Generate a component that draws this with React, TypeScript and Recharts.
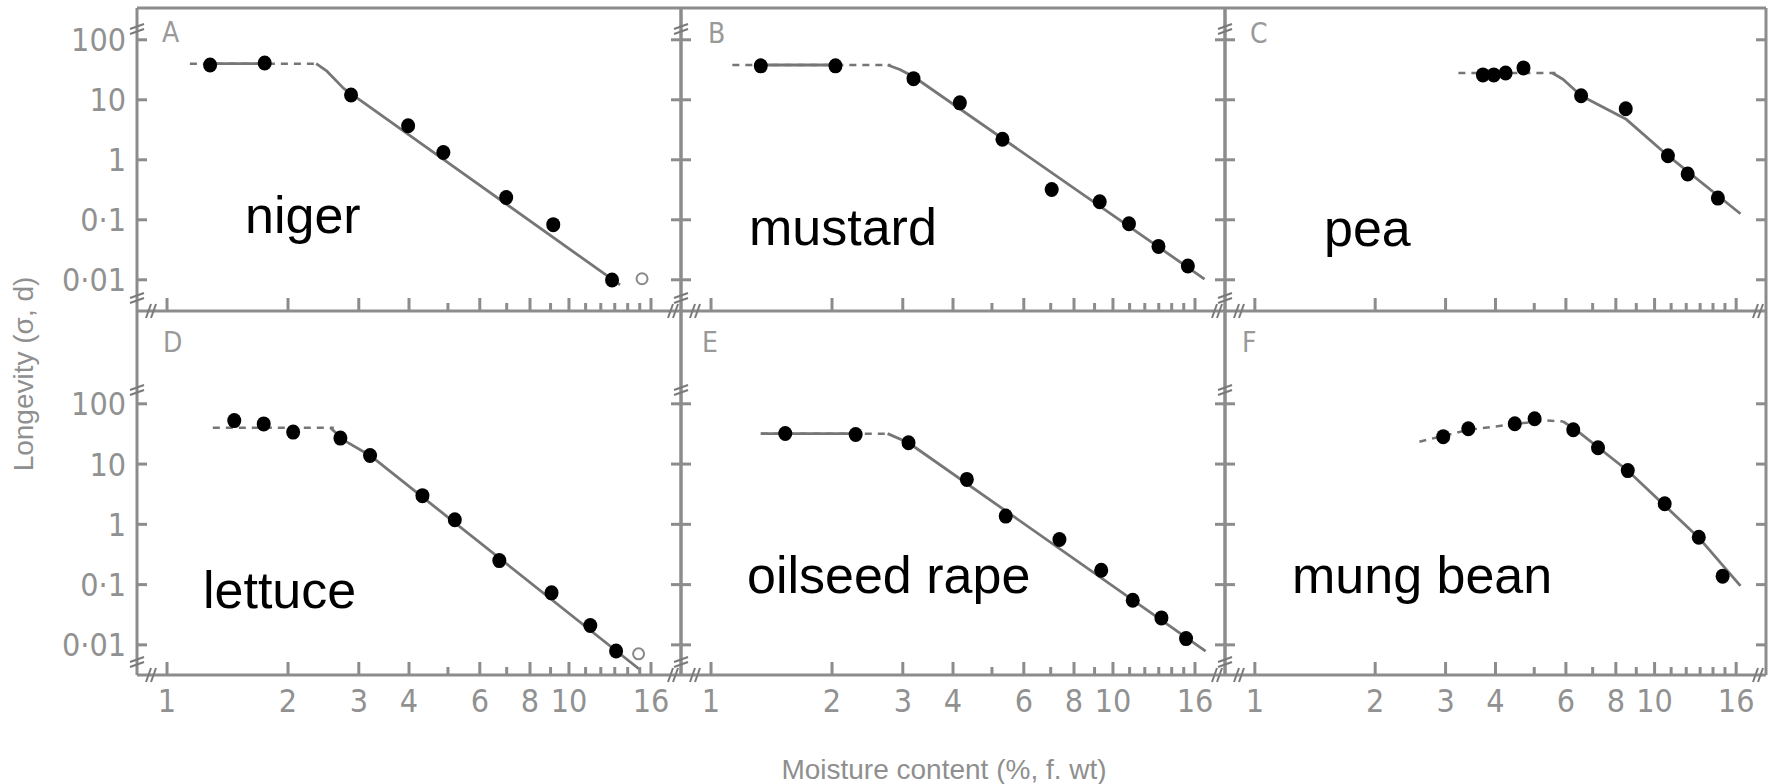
import React from "react";
import { ComposedChart, Line, Scatter, XAxis, YAxis } from "recharts";

// axes
const moistureTicks = [1, 2, 3, 4, 5, 6, 7, 8, 9, 10, 11, 12, 13, 14, 15, 16];
const moistureLabelTicks = [1, 2, 3, 4, 6, 8, 10, 16];
const longevityTicks = [0.01, 0.1, 1, 10, 100];
const longevityLabels = ["0·01", "0·1", "1", "10", "100"];

// A - niger
const nigerMoisture = [1.28, 1.75, 2.87, 3.98, 4.87, 6.98, 9.14, 12.8];
const nigerLongevity = [38, 41, 12, 3.7, 1.32, 0.235, 0.083, 0.0099];
const nigerDash = [[1.14, 40], [2.4, 40]];
const nigerSolid = [[1.28, 40], [1.75, 40]];
const nigerDecline = [[2.35, 40], [2.5, 30], [2.75, 15.5], [13.4, 0.0082]];
const nigerEmpty = [[15.2, 0.0104]];

// B - mustard
const mustardMoisture = [1.33, 2.04, 3.19, 4.16, 5.31, 7.04, 9.27, 10.96, 12.98, 15.36];
const mustardLongevity = [36.8, 36.8, 22.5, 8.9, 2.2, 0.32, 0.2, 0.086, 0.036, 0.017];
const mustardDash = [[1.13, 38], [2.8, 38]];
const mustardSolid = [[1.33, 38], [2.04, 38]];
const mustardDecline = [[2.75, 38], [2.95, 32], [3.2, 24], [16.9, 0.0103]];

// C - pea
const peaMoisture = [3.72, 3.96, 4.24, 4.7, 6.55, 8.47, 10.8, 12.1, 14.4];
const peaLongevity = [26, 26, 28, 34, 11.7, 7.1, 1.17, 0.58, 0.23];
const peaDash = [[3.23, 28], [5.65, 28]];
const peaDecline = [[5.55, 28], [5.9, 22], [6.55, 11.7], [8.47, 4.8], [10.8, 1.17], [16.4, 0.126]];

// D - lettuce
const lettuceMoisture = [1.47, 1.74, 2.06, 2.7, 3.2, 4.32, 5.2, 6.71, 9.05, 11.3, 13.1];
const lettuceLongevity = [52.6, 46.4, 33.9, 27, 13.9, 2.99, 1.19, 0.25, 0.073, 0.021, 0.0079];
const lettuceDash = [[1.3, 40], [2.6, 40]];
const lettuceDecline = [[2.55, 40], [2.75, 25], [3.2, 13.9], [15.0, 0.0039]];
const lettuceEmpty = [[14.9, 0.0071]];

// E - oilseed rape
const rapeMoisture = [1.53, 2.29, 3.1, 4.33, 5.41, 7.36, 9.35, 11.2, 13.2, 15.2];
const rapeLongevity = [32.2, 31, 22.6, 5.57, 1.37, 0.56, 0.173, 0.055, 0.028, 0.0127];
const rapeDash = [[1.33, 32], [2.8, 32]];
const rapeSolid = [[1.33, 32], [2.35, 32]];
const rapeDecline = [[2.75, 32], [3.1, 22.6], [17.0, 0.0079]];

// F - mung bean
const mungMoisture = [2.96, 3.42, 4.47, 5.01, 6.26, 7.22, 8.57, 10.6, 12.9, 14.8];
const mungLongevity = [28.5, 38.6, 46.7, 56.5, 37.2, 18.7, 7.8, 2.2, 0.61, 0.138];
const mungDash = [[2.58, 23.5], [3.42, 37], [4.47, 46], [5.3, 53], [5.9, 51]];
const mungDecline = [[5.9, 51], [6.5, 33], [8.6, 7.6], [12.9, 0.6], [16.4, 0.095]];

const GRAY = "#8c8c8c";
const LINE = "#767676";
const TICK_FONT = '"Liberation Sans Narrow", "DejaVu Sans Condensed", sans-serif';
const TEXT_FONT = '"Liberation Sans", Arial, sans-serif';

const xDomain = [0.842, 19];
const rowDomains = [
  [Math.pow(10, -2.52), Math.pow(10, 2.53)],
  [Math.pow(10, -2.5), Math.pow(10, 3.54)],
];
const colLefts = [137, 681, 1225];
const colWidths = [544, 544, 541];
const rowTops = [8, 311];
const rowHeights = [303, 364];

const zip = (xs: number[], ys: number[]) => xs.map((x, i) => ({ x, y: ys[i] }));
const pts = (p: number[][]) => p.map(([x, y]) => ({ x, y }));

type PanelDef = {
  row: number
  col: number
  letter: string
  name: string
  points: { x: number; y: number }[]
  dash: number[][]
  solid: number[][][]
  empty?: number[][]
  letterPos: [number, number]
  namePos: [number, number]
}

const panels: PanelDef[] = [
  { row: 0, col: 0, letter: "A", name: "niger", points: zip(nigerMoisture, nigerLongevity), dash: nigerDash, solid: [nigerSolid, nigerDecline], empty: nigerEmpty, letterPos: [162, 42], namePos: [245, 233] },
  { row: 0, col: 1, letter: "B", name: "mustard", points: zip(mustardMoisture, mustardLongevity), dash: mustardDash, solid: [mustardSolid, mustardDecline], letterPos: [708, 43], namePos: [749, 245] },
  { row: 0, col: 2, letter: "C", name: "pea", points: zip(peaMoisture, peaLongevity), dash: peaDash, solid: [peaDecline], letterPos: [1250, 43], namePos: [1324, 246] },
  { row: 1, col: 0, letter: "D", name: "lettuce", points: zip(lettuceMoisture, lettuceLongevity), dash: lettuceDash, solid: [lettuceDecline], empty: lettuceEmpty, letterPos: [163, 352], namePos: [203, 608] },
  { row: 1, col: 1, letter: "E", name: "oilseed rape", points: zip(rapeMoisture, rapeLongevity), dash: rapeDash, solid: [rapeSolid, rapeDecline], letterPos: [702, 352], namePos: [747, 593] },
  { row: 1, col: 2, letter: "F", name: "mung bean", points: zip(mungMoisture, mungLongevity), dash: mungDash, solid: [mungDecline], letterPos: [1242, 352], namePos: [1292, 593] },
];

const XTick = ({ x, y, payload, labels }: any) => {
  const v = payload.value;
  const major = moistureLabelTicks.includes(v);
  return (
    <g>
      <line x1={x} y1={y} x2={x} y2={y - (major ? 13 : 8)} stroke={GRAY} strokeWidth={3} />
      {labels && major && (
        <text x={x} y={y + 37} textAnchor="middle" fontFamily={TICK_FONT} fontSize={32} fill="#919191">
          {v}
        </text>
      )}
    </g>
  );
};

const YTick = ({ x, y, payload, side, labels }: any) => {
  const dir = side === "left" ? 1 : -1;
  const idx = longevityTicks.indexOf(payload.value);
  return (
    <g>
      <line x1={x} y1={y} x2={x + dir * 10} y2={y} stroke={GRAY} strokeWidth={3} />
      {labels && (
        <text x={x - 11} y={y} dy="0.36em" textAnchor="end" fontFamily={TICK_FONT} fontSize={32} fill="#919191">
          {longevityLabels[idx]}
        </text>
      )}
    </g>
  );
};

const Dot = (props: any) => <ellipse cx={props.cx} cy={props.cy} rx={7} ry={7.5} fill="#000" />;
const OpenDot = (props: any) => (
  <circle cx={props.cx} cy={props.cy} r={5.5} fill="none" stroke="#888" strokeWidth={2} />
);

// small "//" axis-break marks
const BreakMark = ({ x, y, vertical }: { x: number; y: number; vertical?: boolean }) =>
  vertical ? (
    <g stroke="#7a7a7a" strokeWidth={2}>
      <line x1={x - 7} y1={y + 1} x2={x + 7} y2={y - 4} />
      <line x1={x - 7} y1={y + 6} x2={x + 7} y2={y + 1} />
    </g>
  ) : (
    <g stroke="#7a7a7a" strokeWidth={2}>
      <line x1={x - 5} y1={y + 7} x2={x} y2={y - 7} />
      <line x1={x} y1={y + 7} x2={x + 5} y2={y - 7} />
    </g>
  );

const Panel = ({ def }: { def: PanelDef }) => {
  const left = colLefts[def.col];
  const w = colWidths[def.col];
  const top = rowTops[def.row];
  const h = rowHeights[def.row];
  const topAxis = def.row === 0;
  const axisLine = { stroke: GRAY, strokeWidth: 3 };
  return (
    <div style={{ position: "absolute", left: left - 130, top: top - 10 }}>
      <ComposedChart
        width={w + 140}
        height={h + 90}
        margin={{ top: topAxis ? 0 : 10, right: 0, bottom: 0, left: 0 }}
      >
        <XAxis
          dataKey="x"
          type="number"
          scale="log"
          domain={xDomain}
          allowDataOverflow
          ticks={moistureTicks}
          interval={0}
          height={80}
          tickLine={false}
          tickSize={0}
          tickMargin={0}
          axisLine={axisLine}
          tick={(p: any) => <XTick {...p} labels={def.row === 1} />}
        />
        {topAxis && (
          <XAxis
            xAxisId="top"
            orientation="top"
            type="number"
            scale="log"
            domain={xDomain}
            allowDataOverflow
            height={10}
            tick={false}
            tickLine={false}
            axisLine={axisLine}
          />
        )}
        <YAxis
          dataKey="y"
          type="number"
          scale="log"
          domain={rowDomains[def.row]}
          allowDataOverflow
          ticks={longevityTicks}
          interval={0}
          width={130}
          tickLine={false}
          tickSize={0}
          tickMargin={0}
          axisLine={axisLine}
          tick={(p: any) => <YTick {...p} side="left" labels={def.col === 0} />}
        />
        <YAxis
          yAxisId="right"
          orientation="right"
          type="number"
          scale="log"
          domain={rowDomains[def.row]}
          allowDataOverflow
          ticks={longevityTicks}
          interval={0}
          width={10}
          tickLine={false}
          tickSize={0}
          tickMargin={0}
          axisLine={axisLine}
          tick={(p: any) => <YTick {...p} side="right" labels={false} />}
        />
        <Line
          data={pts(def.dash)}
          dataKey="y"
          type="linear"
          stroke={LINE}
          strokeWidth={2.5}
          strokeDasharray="7 6"
          dot={false}
          activeDot={false}
          isAnimationActive={false}
        />
        {def.solid.map((seg, k) => (
          <Line
            key={k}
            data={pts(seg)}
            dataKey="y"
            type="linear"
            stroke={LINE}
            strokeWidth={2.8}
            strokeLinejoin="round"
            dot={false}
            activeDot={false}
            isAnimationActive={false}
          />
        ))}
        <Scatter data={def.points} shape={Dot} isAnimationActive={false} />
        {def.empty && <Scatter data={pts(def.empty)} shape={OpenDot} isAnimationActive={false} />}
      </ComposedChart>
    </div>
  );
};

export default function App() {
  return (
    <div style={{ position: "absolute", left: 0, top: 0, width: 1779, height: 784, background: "#fff", overflow: "hidden" }}>
      {panels.map((def) => (
        <Panel key={def.letter} def={def} />
      ))}
      <svg width={1779} height={784} style={{ position: "absolute", left: 0, top: 0, pointerEvents: "none" }}>
        {panels.map((def) => {
          const left = colLefts[def.col];
          const right = left + colWidths[def.col];
          const top = rowTops[def.row];
          const bottom = top + rowHeights[def.row];
          const hundred = def.row === 0 ? 28 : 389;
          return (
            <g key={def.letter}>
              <text x={def.namePos[0]} y={def.namePos[1]} fontFamily={TEXT_FONT} fontSize={52} fill="#000">
                {def.name}
              </text>
              <text x={def.letterPos[0]} y={def.letterPos[1]} fontFamily={TICK_FONT} fontSize={28} fill="#999">
                {def.letter}
              </text>
              <BreakMark x={left} y={hundred} vertical />
              <BreakMark x={left} y={bottom - 14} vertical />
              <BreakMark x={left + 14} y={bottom} />
              <BreakMark x={right - 8} y={bottom} />
            </g>
          );
        })}
        <text
          transform="translate(33,374) rotate(-90)"
          textAnchor="middle"
          fontFamily={TEXT_FONT}
          fontSize={28}
          fill="#8f8f8f"
        >
          Longevity (σ, d)
        </text>
        <text x={944} y={779} textAnchor="middle" fontFamily={TEXT_FONT} fontSize={28} fill="#8f8f8f">
          Moisture content (%, f. wt)
        </text>
      </svg>
    </div>
  );
}
